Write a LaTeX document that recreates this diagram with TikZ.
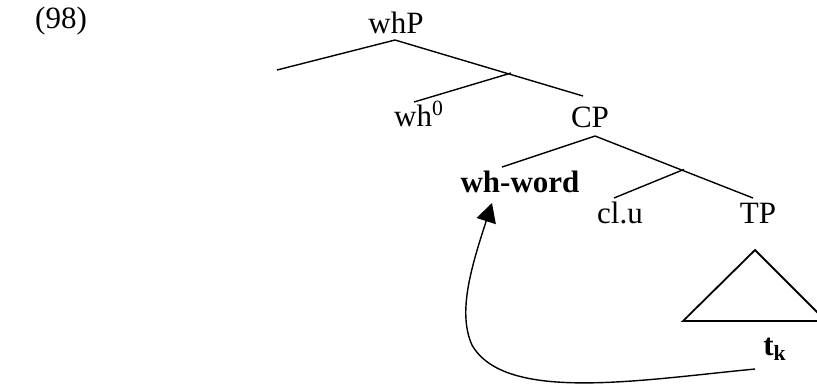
\documentclass[tikz,border=0pt]{standalone}
\usepackage{fontspec}
\setmainfont{Liberation Serif}
\usetikzlibrary{arrows.meta,calc}
\begin{document}
\begin{tikzpicture}[x=0.5pt,y=-0.5pt,
  lbl/.style={inner sep=0pt,anchor=base,font=\fontsize{15.5}{18}\selectfont},
  br/.style={line width=0.7pt},
  tri/.style={line width=0.9pt}]
\useasboundingbox (0,0) rectangle (817,388);
% labels
\node[lbl] (ex) at (61,28) {(98)};
\node[lbl] (whP) at (396,33) {whP};
\node[lbl] (wh0) at (419,126) {wh$^{\mathrm{0}}$};
\node[lbl] (CP) at (590,127) {CP};
\node[lbl,font=\fontsize{15.5}{18}\selectfont\bfseries] (whw) at (520,192) {wh-word};
\node[lbl] (clu) at (620,223) {cl.u};
\node[lbl] (TP) at (758,223) {TP};
\node[lbl,font=\fontsize{15.5}{18}\selectfont\bfseries] (tk) at (775,355) {t\textsubscript{k}};
% branch points
\coordinate (a1) at (395,40);
\coordinate (l1) at (277,70);
\coordinate (r1) at (583,96);
\coordinate (b1) at ($(a1)!0.617!(r1)+(0,-1.5)$);
\coordinate (e1) at (414,102);
\coordinate (a2) at (595,136);
\coordinate (l2) at (502,167);
\coordinate (r2) at (753,198);
\coordinate (b2) at ($(a2)!0.563!(r2)+(0,-1.5)$);
\coordinate (e2) at (614,198);
\coordinate (t1) at (755,250);
\coordinate (t2) at (683,321);
\coordinate (t3) at (826,321);
\coordinate (s) at (755,369);
\coordinate (tip) at (492,203);
\draw[br] (l1) -- (a1) -- (r1);
\draw[br] (b1) -- (e1);
\draw[br] (l2) -- (a2) -- (r2);
\draw[br] (b2) -- (e2);
\draw[tri] (t2) -- (t1) -- (t3) -- cycle;
\draw[br,-{Triangle[length=9.5pt,width=10pt]}] (s) .. controls (640,380) and (505,403) .. (472,345) .. controls (457,312) and (472,265) .. (tip);
\end{tikzpicture}
\end{document}
